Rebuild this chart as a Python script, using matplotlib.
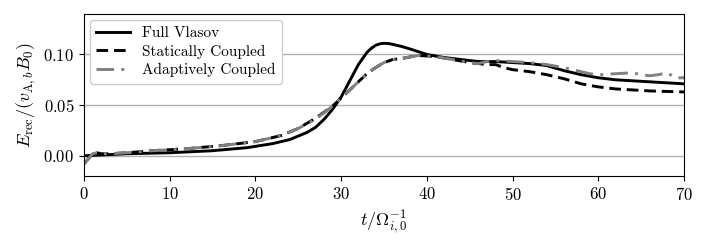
import matplotlib
matplotlib.use("Agg")
import matplotlib.pyplot as plt

plt.rcParams["font.family"] = "serif"
plt.rcParams["font.serif"] = ["cmr10", "DejaVu Serif"]
plt.rcParams["mathtext.fontset"] = "cm"
plt.rcParams["axes.formatter.use_mathtext"] = True

# data
t_full = [0, 5, 10, 15, 19, 22, 24, 26, 27, 28, 29, 30, 31, 32, 33, 33.5, 34,
          34.5, 35, 35.5, 36, 37, 38, 40, 42, 44, 46, 48, 50, 52, 54, 56, 58,
          60, 62, 64, 66, 68, 70]
full = [0.000, 0.002, 0.003, 0.005, 0.008, 0.012, 0.016, 0.023, 0.028, 0.036,
        0.046, 0.058, 0.074, 0.090, 0.102, 0.106, 0.109, 0.1105, 0.111, 0.1108,
        0.110, 0.108, 0.1055, 0.100, 0.097, 0.095, 0.093, 0.093, 0.092, 0.091,
        0.089, 0.084, 0.080, 0.077, 0.075, 0.074, 0.073, 0.072, 0.071]

t_static = [0, 0.5, 1, 1.5, 2, 3, 5, 8, 12, 16, 20, 23, 25, 27, 29, 30, 31, 32,
            33, 34, 35, 36, 37, 39, 41, 43, 45, 47, 48, 49, 50, 52, 54, 56, 58,
            60, 62, 64, 66, 68, 70]
static = [-0.008, -0.003, 0.002, 0.003, 0.002, 0.002, 0.003, 0.005, 0.007,
          0.010, 0.014, 0.020, 0.027, 0.037, 0.049, 0.057, 0.065, 0.073, 0.081,
          0.087, 0.092, 0.095, 0.096, 0.099, 0.098, 0.095, 0.092, 0.090, 0.090,
          0.087, 0.085, 0.083, 0.080, 0.076, 0.071, 0.068, 0.066, 0.065, 0.064,
          0.0635, 0.063]

t_adapt = [0, 0.5, 1, 1.5, 2, 3, 5, 8, 12, 16, 20, 23, 25, 27, 29, 30, 31, 32,
           33, 34, 35, 36, 37, 39, 41, 43, 45, 46, 47, 48, 50, 52, 54, 56, 58,
           59, 60, 62, 64, 65, 66, 67, 68, 69, 70]
adapt = [-0.008, -0.003, 0.002, 0.003, 0.002, 0.002, 0.003, 0.005, 0.007,
         0.010, 0.014, 0.020, 0.027, 0.036, 0.049, 0.057, 0.065, 0.073, 0.081,
         0.087, 0.092, 0.095, 0.096, 0.099, 0.098, 0.095, 0.092, 0.091, 0.093,
         0.094, 0.093, 0.092, 0.090, 0.087, 0.083, 0.081, 0.080, 0.081, 0.082,
         0.080, 0.079, 0.080, 0.082, 0.077, 0.077]

fig = plt.figure(figsize=(7.06, 2.49), dpi=100)
ax = fig.add_axes([0.119, 0.293, 0.850, 0.651])

ax.plot(t_full, full, color="black", lw=2.1, label="Full Vlasov")
ax.plot(t_static, static, color="black", lw=2.1, ls=(0, (4, 2)),
        label="Statically Coupled")
ax.plot(t_adapt, adapt, color="#808080", lw=2.1, ls=(0, (6, 2.5, 1, 2.5)),
        label="Adaptively Coupled")

ax.set_xlim(0, 70)
ax.set_ylim(-0.02, 0.14)
ax.set_xticks(range(0, 71, 10))
ax.set_yticks([0.00, 0.05, 0.10])
ax.yaxis.grid(True, color="#b0b0b0", lw=1.0)
ax.set_axisbelow(True)
ax.tick_params(labelsize=12, top=False, right=False)
ax.set_xlabel(r"$t/\Omega_{i,0}^{-1}$", fontsize=13)
ax.set_ylabel(r"$E_\mathrm{rec}/(v_{\mathrm{A},b}B_0)$", fontsize=13)
ax.legend(loc="upper left", fontsize=11, framealpha=1, edgecolor="#cccccc",
          handlelength=2.2, borderaxespad=0.4, labelspacing=0.3)

fig.savefig("out.png", dpi=100)
